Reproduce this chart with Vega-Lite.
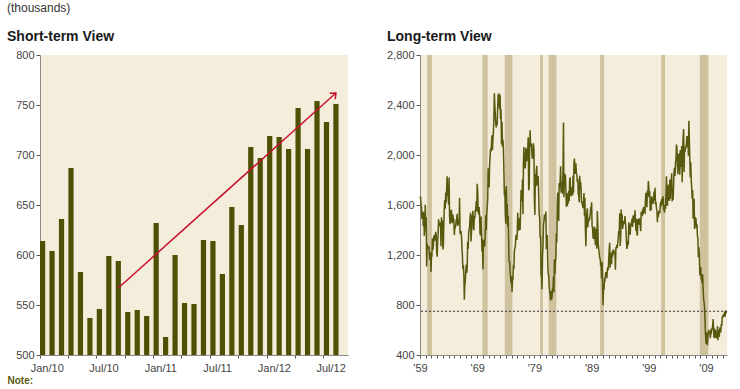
{
  "$schema": "https://vega.github.io/schema/vega-lite/v6.json",
  "background": "white",
  "padding": {"left": 0, "top": 2, "right": 5, "bottom": 0},
  "title": {"text": "(thousands)", "anchor": "start", "frame": "bounds", "dx": 7, "fontSize": 12, "fontWeight": "normal", "font": "Liberation Sans", "color": "#333333", "offset": 15},
  "config": {
    "view": {"stroke": null, "fill": "#F4EDDB"},
    "axis": {"grid": false, "labelOverlap": false, "labelFont": "Liberation Sans", "labelFontSize": 11, "labelColor": "#444444", "domainColor": "#8a8a8a", "tickColor": "#555555", "tickSize": 4, "titleFont": "Liberation Sans"},
    "axisTemporal": {"labelOverlap": false},
    "title": {"font": "Liberation Sans", "fontSize": 14, "fontWeight": "bold", "color": "#1a1a1a", "anchor": "start", "frame": "bounds", "dx": 7, "offset": 5}
  },
  "datasets": {
    "short": [
      {"month":"Jan/10","v":614},{"month":"Feb/10","v":604},{"month":"Mar/10","v":636},{"month":"Apr/10","v":687},{"month":"May/10","v":583},{"month":"Jun/10","v":537},{"month":"Jul/10","v":546},{"month":"Aug/10","v":599},{"month":"Sep/10","v":594},{"month":"Oct/10","v":543},{"month":"Nov/10","v":545},{"month":"Dec/10","v":539},
      {"month":"Jan/11","v":632},{"month":"Feb/11","v":518},{"month":"Mar/11","v":600},{"month":"Apr/11","v":552},{"month":"May/11","v":551},{"month":"Jun/11","v":615},{"month":"Jul/11","v":614},{"month":"Aug/11","v":581},{"month":"Sep/11","v":648},{"month":"Oct/11","v":630},{"month":"Nov/11","v":708},{"month":"Dec/11","v":697},
      {"month":"Jan/12","v":719},{"month":"Feb/12","v":718},{"month":"Mar/12","v":706},{"month":"Apr/12","v":747},{"month":"May/12","v":706},{"month":"Jun/12","v":754},{"month":"Jul/12","v":733},{"month":"Aug/12","v":751}
    ],
    "arrow": [{"from":"Sep/10","to":"Aug/12","v0":567,"v1":762}],
    "ref": [{"v": 750}],
    "rec": [
      {"s":"1960-04","e":"1961-02"},{"s":"1969-12","e":"1970-11"},{"s":"1973-11","e":"1975-03"},{"s":"1980-01","e":"1980-07"},
      {"s":"1981-07","e":"1982-11"},{"s":"1990-07","e":"1991-03"},{"s":"2001-03","e":"2001-11"},{"s":"2007-12","e":"2009-06"}
    ],
    "long": [
{"d":"1959-01","v":1657},{"d":"1959-02","v":1667},{"d":"1959-03","v":1620},{"d":"1959-04","v":1590},{"d":"1959-05","v":1498},{"d":"1959-06","v":1503},{"d":"1959-07","v":1547},{"d":"1959-08","v":1430},{"d":"1959-09","v":1540},{"d":"1959-10","v":1355},{"d":"1959-11","v":1416},{"d":"1959-12","v":1601},
{"d":"1960-01","v":1460},{"d":"1960-02","v":1503},{"d":"1960-03","v":1109},{"d":"1960-04","v":1289},{"d":"1960-05","v":1266},{"d":"1960-06","v":1260},{"d":"1960-07","v":1255},{"d":"1960-08","v":1268},{"d":"1960-09","v":1162},{"d":"1960-10","v":1187},{"d":"1960-11","v":1221},{"d":"1960-12","v":1065},
{"d":"1961-01","v":1185},{"d":"1961-02","v":1192},{"d":"1961-03","v":1334},{"d":"1961-04","v":1240},{"d":"1961-05","v":1279},{"d":"1961-06","v":1348},{"d":"1961-07","v":1353},{"d":"1961-08","v":1322},{"d":"1961-09","v":1327},{"d":"1961-10","v":1385},{"d":"1961-11","v":1357},{"d":"1961-12","v":1224},
{"d":"1962-01","v":1187},{"d":"1962-02","v":1304},{"d":"1962-03","v":1363},{"d":"1962-04","v":1485},{"d":"1962-05","v":1451},{"d":"1962-06","v":1430},{"d":"1962-07","v":1451},{"d":"1962-08","v":1460},{"d":"1962-09","v":1271},{"d":"1962-10","v":1501},{"d":"1962-11","v":1404},{"d":"1962-12","v":1477},
{"d":"1963-01","v":1244},{"d":"1963-02","v":1270},{"d":"1963-03","v":1445},{"d":"1963-04","v":1580},{"d":"1963-05","v":1640},{"d":"1963-06","v":1570},{"d":"1963-07","v":1700},{"d":"1963-08","v":1620},{"d":"1963-09","v":1740},{"d":"1963-10","v":1830},{"d":"1963-11","v":1680},{"d":"1963-12","v":1690},
{"d":"1964-01","v":1603},{"d":"1964-02","v":1820},{"d":"1964-03","v":1517},{"d":"1964-04","v":1448},{"d":"1964-05","v":1467},{"d":"1964-06","v":1550},{"d":"1964-07","v":1562},{"d":"1964-08","v":1469},{"d":"1964-09","v":1455},{"d":"1964-10","v":1524},{"d":"1964-11","v":1486},{"d":"1964-12","v":1484},
{"d":"1965-01","v":1361},{"d":"1965-02","v":1433},{"d":"1965-03","v":1423},{"d":"1965-04","v":1438},{"d":"1965-05","v":1478},{"d":"1965-06","v":1488},{"d":"1965-07","v":1529},{"d":"1965-08","v":1432},{"d":"1965-09","v":1482},{"d":"1965-10","v":1452},{"d":"1965-11","v":1460},{"d":"1965-12","v":1656},
{"d":"1966-01","v":1370},{"d":"1966-02","v":1378},{"d":"1966-03","v":1394},{"d":"1966-04","v":1352},{"d":"1966-05","v":1265},{"d":"1966-06","v":1194},{"d":"1966-07","v":1086},{"d":"1966-08","v":1119},{"d":"1966-09","v":1046},{"d":"1966-10","v":843},{"d":"1966-11","v":961},{"d":"1966-12","v":990},
{"d":"1967-01","v":1067},{"d":"1967-02","v":1123},{"d":"1967-03","v":1056},{"d":"1967-04","v":1091},{"d":"1967-05","v":1304},{"d":"1967-06","v":1248},{"d":"1967-07","v":1364},{"d":"1967-08","v":1407},{"d":"1967-09","v":1421},{"d":"1967-10","v":1491},{"d":"1967-11","v":1538},{"d":"1967-12","v":1308},
{"d":"1968-01","v":1380},{"d":"1968-02","v":1520},{"d":"1968-03","v":1466},{"d":"1968-04","v":1554},{"d":"1968-05","v":1408},{"d":"1968-06","v":1405},{"d":"1968-07","v":1512},{"d":"1968-08","v":1495},{"d":"1968-09","v":1556},{"d":"1968-10","v":1569},{"d":"1968-11","v":1630},{"d":"1968-12","v":1548},
{"d":"1969-01","v":1769},{"d":"1969-02","v":1705},{"d":"1969-03","v":1561},{"d":"1969-04","v":1524},{"d":"1969-05","v":1583},{"d":"1969-06","v":1528},{"d":"1969-07","v":1368},{"d":"1969-08","v":1358},{"d":"1969-09","v":1507},{"d":"1969-10","v":1381},{"d":"1969-11","v":1229},{"d":"1969-12","v":1327},
{"d":"1970-01","v":1085},{"d":"1970-02","v":1305},{"d":"1970-03","v":1319},{"d":"1970-04","v":1264},{"d":"1970-05","v":1290},{"d":"1970-06","v":1385},{"d":"1970-07","v":1517},{"d":"1970-08","v":1399},{"d":"1970-09","v":1534},{"d":"1970-10","v":1580},{"d":"1970-11","v":1647},{"d":"1970-12","v":1893},
{"d":"1971-01","v":1828},{"d":"1971-02","v":1741},{"d":"1971-03","v":1910},{"d":"1971-04","v":1986},{"d":"1971-05","v":2049},{"d":"1971-06","v":2026},{"d":"1971-07","v":2083},{"d":"1971-08","v":2158},{"d":"1971-09","v":2041},{"d":"1971-10","v":2128},{"d":"1971-11","v":2182},{"d":"1971-12","v":2295},
{"d":"1972-01","v":2494},{"d":"1972-02","v":2390},{"d":"1972-03","v":2334},{"d":"1972-04","v":2249},{"d":"1972-05","v":2221},{"d":"1972-06","v":2254},{"d":"1972-07","v":2252},{"d":"1972-08","v":2382},{"d":"1972-09","v":2481},{"d":"1972-10","v":2485},{"d":"1972-11","v":2421},{"d":"1972-12","v":2366},
{"d":"1973-01","v":2481},{"d":"1973-02","v":2289},{"d":"1973-03","v":2365},{"d":"1973-04","v":2084},{"d":"1973-05","v":2266},{"d":"1973-06","v":2067},{"d":"1973-07","v":2123},{"d":"1973-08","v":2051},{"d":"1973-09","v":1874},{"d":"1973-10","v":1677},{"d":"1973-11","v":1724},{"d":"1973-12","v":1526},
{"d":"1974-01","v":1451},{"d":"1974-02","v":1752},{"d":"1974-03","v":1555},{"d":"1974-04","v":1607},{"d":"1974-05","v":1426},{"d":"1974-06","v":1513},{"d":"1974-07","v":1316},{"d":"1974-08","v":1142},{"d":"1974-09","v":1150},{"d":"1974-10","v":1070},{"d":"1974-11","v":1026},{"d":"1974-12","v":975},
{"d":"1975-01","v":1032},{"d":"1975-02","v":904},{"d":"1975-03","v":993},{"d":"1975-04","v":1005},{"d":"1975-05","v":1121},{"d":"1975-06","v":1087},{"d":"1975-07","v":1226},{"d":"1975-08","v":1260},{"d":"1975-09","v":1264},{"d":"1975-10","v":1344},{"d":"1975-11","v":1360},{"d":"1975-12","v":1321},
{"d":"1976-01","v":1367},{"d":"1976-02","v":1538},{"d":"1976-03","v":1421},{"d":"1976-04","v":1395},{"d":"1976-05","v":1459},{"d":"1976-06","v":1495},{"d":"1976-07","v":1401},{"d":"1976-08","v":1550},{"d":"1976-09","v":1720},{"d":"1976-10","v":1629},{"d":"1976-11","v":1641},{"d":"1976-12","v":1804},
{"d":"1977-01","v":1527},{"d":"1977-02","v":1943},{"d":"1977-03","v":2063},{"d":"1977-04","v":1892},{"d":"1977-05","v":1971},{"d":"1977-06","v":1893},{"d":"1977-07","v":2058},{"d":"1977-08","v":2020},{"d":"1977-09","v":1949},{"d":"1977-10","v":2042},{"d":"1977-11","v":2042},{"d":"1977-12","v":2142},
{"d":"1978-01","v":1718},{"d":"1978-02","v":1738},{"d":"1978-03","v":2032},{"d":"1978-04","v":2197},{"d":"1978-05","v":2075},{"d":"1978-06","v":2070},{"d":"1978-07","v":2092},{"d":"1978-08","v":1996},{"d":"1978-09","v":1970},{"d":"1978-10","v":1981},{"d":"1978-11","v":2094},{"d":"1978-12","v":2044},
{"d":"1979-01","v":1630},{"d":"1979-02","v":1520},{"d":"1979-03","v":1847},{"d":"1979-04","v":1748},{"d":"1979-05","v":1876},{"d":"1979-06","v":1913},{"d":"1979-07","v":1760},{"d":"1979-08","v":1778},{"d":"1979-09","v":1832},{"d":"1979-10","v":1681},{"d":"1979-11","v":1524},{"d":"1979-12","v":1498},
{"d":"1980-01","v":1341},{"d":"1980-02","v":1350},{"d":"1980-03","v":1047},{"d":"1980-04","v":1051},{"d":"1980-05","v":927},{"d":"1980-06","v":1196},{"d":"1980-07","v":1269},{"d":"1980-08","v":1436},{"d":"1980-09","v":1471},{"d":"1980-10","v":1523},{"d":"1980-11","v":1510},{"d":"1980-12","v":1482},
{"d":"1981-01","v":1547},{"d":"1981-02","v":1246},{"d":"1981-03","v":1306},{"d":"1981-04","v":1360},{"d":"1981-05","v":1140},{"d":"1981-06","v":1045},{"d":"1981-07","v":1041},{"d":"1981-08","v":940},{"d":"1981-09","v":911},{"d":"1981-10","v":873},{"d":"1981-11","v":837},{"d":"1981-12","v":910},
{"d":"1982-01","v":843},{"d":"1982-02","v":866},{"d":"1982-03","v":931},{"d":"1982-04","v":917},{"d":"1982-05","v":1025},{"d":"1982-06","v":902},{"d":"1982-07","v":1166},{"d":"1982-08","v":1046},{"d":"1982-09","v":1144},{"d":"1982-10","v":1173},{"d":"1982-11","v":1372},{"d":"1982-12","v":1303},
{"d":"1983-01","v":1586},{"d":"1983-02","v":1699},{"d":"1983-03","v":1606},{"d":"1983-04","v":1472},{"d":"1983-05","v":1776},{"d":"1983-06","v":1733},{"d":"1983-07","v":1785},{"d":"1983-08","v":1910},{"d":"1983-09","v":1710},{"d":"1983-10","v":1715},{"d":"1983-11","v":1785},{"d":"1983-12","v":1688},
{"d":"1984-01","v":1897},{"d":"1984-02","v":2260},{"d":"1984-03","v":1663},{"d":"1984-04","v":1851},{"d":"1984-05","v":1774},{"d":"1984-06","v":1843},{"d":"1984-07","v":1732},{"d":"1984-08","v":1586},{"d":"1984-09","v":1698},{"d":"1984-10","v":1590},{"d":"1984-11","v":1689},{"d":"1984-12","v":1612},
{"d":"1985-01","v":1711},{"d":"1985-02","v":1632},{"d":"1985-03","v":1800},{"d":"1985-04","v":1821},{"d":"1985-05","v":1680},{"d":"1985-06","v":1676},{"d":"1985-07","v":1684},{"d":"1985-08","v":1743},{"d":"1985-09","v":1676},{"d":"1985-10","v":1834},{"d":"1985-11","v":1698},{"d":"1985-12","v":1942},
{"d":"1986-01","v":1972},{"d":"1986-02","v":1848},{"d":"1986-03","v":1876},{"d":"1986-04","v":1933},{"d":"1986-05","v":1854},{"d":"1986-06","v":1847},{"d":"1986-07","v":1782},{"d":"1986-08","v":1807},{"d":"1986-09","v":1687},{"d":"1986-10","v":1681},{"d":"1986-11","v":1623},{"d":"1986-12","v":1833},
{"d":"1987-01","v":1774},{"d":"1987-02","v":1784},{"d":"1987-03","v":1726},{"d":"1987-04","v":1614},{"d":"1987-05","v":1628},{"d":"1987-06","v":1594},{"d":"1987-07","v":1575},{"d":"1987-08","v":1605},{"d":"1987-09","v":1695},{"d":"1987-10","v":1515},{"d":"1987-11","v":1656},{"d":"1987-12","v":1400},
{"d":"1988-01","v":1271},{"d":"1988-02","v":1473},{"d":"1988-03","v":1532},{"d":"1988-04","v":1573},{"d":"1988-05","v":1421},{"d":"1988-06","v":1478},{"d":"1988-07","v":1467},{"d":"1988-08","v":1493},{"d":"1988-09","v":1492},{"d":"1988-10","v":1522},{"d":"1988-11","v":1569},{"d":"1988-12","v":1563},
{"d":"1989-01","v":1621},{"d":"1989-02","v":1425},{"d":"1989-03","v":1422},{"d":"1989-04","v":1339},{"d":"1989-05","v":1331},{"d":"1989-06","v":1397},{"d":"1989-07","v":1427},{"d":"1989-08","v":1332},{"d":"1989-09","v":1279},{"d":"1989-10","v":1410},{"d":"1989-11","v":1351},{"d":"1989-12","v":1251},
{"d":"1990-01","v":1551},{"d":"1990-02","v":1437},{"d":"1990-03","v":1289},{"d":"1990-04","v":1248},{"d":"1990-05","v":1212},{"d":"1990-06","v":1177},{"d":"1990-07","v":1171},{"d":"1990-08","v":1115},{"d":"1990-09","v":1110},{"d":"1990-10","v":1014},{"d":"1990-11","v":1145},{"d":"1990-12","v":969},
{"d":"1991-01","v":798},{"d":"1991-02","v":965},{"d":"1991-03","v":921},{"d":"1991-04","v":1001},{"d":"1991-05","v":996},{"d":"1991-06","v":1036},{"d":"1991-07","v":1063},{"d":"1991-08","v":1049},{"d":"1991-09","v":1015},{"d":"1991-10","v":1079},{"d":"1991-11","v":1103},{"d":"1991-12","v":1079},
{"d":"1992-01","v":1176},{"d":"1992-02","v":1250},{"d":"1992-03","v":1297},{"d":"1992-04","v":1099},{"d":"1992-05","v":1214},{"d":"1992-06","v":1145},{"d":"1992-07","v":1139},{"d":"1992-08","v":1226},{"d":"1992-09","v":1186},{"d":"1992-10","v":1244},{"d":"1992-11","v":1214},{"d":"1992-12","v":1227},
{"d":"1993-01","v":1210},{"d":"1993-02","v":1210},{"d":"1993-03","v":1083},{"d":"1993-04","v":1258},{"d":"1993-05","v":1260},{"d":"1993-06","v":1280},{"d":"1993-07","v":1254},{"d":"1993-08","v":1300},{"d":"1993-09","v":1343},{"d":"1993-10","v":1392},{"d":"1993-11","v":1376},{"d":"1993-12","v":1533},
{"d":"1994-01","v":1272},{"d":"1994-02","v":1337},{"d":"1994-03","v":1564},{"d":"1994-04","v":1465},{"d":"1994-05","v":1526},{"d":"1994-06","v":1409},{"d":"1994-07","v":1439},{"d":"1994-08","v":1450},{"d":"1994-09","v":1474},{"d":"1994-10","v":1450},{"d":"1994-11","v":1511},{"d":"1994-12","v":1455},
{"d":"1995-01","v":1407},{"d":"1995-02","v":1316},{"d":"1995-03","v":1249},{"d":"1995-04","v":1267},{"d":"1995-05","v":1314},{"d":"1995-06","v":1281},{"d":"1995-07","v":1461},{"d":"1995-08","v":1416},{"d":"1995-09","v":1369},{"d":"1995-10","v":1369},{"d":"1995-11","v":1452},{"d":"1995-12","v":1431},
{"d":"1996-01","v":1467},{"d":"1996-02","v":1491},{"d":"1996-03","v":1424},{"d":"1996-04","v":1516},{"d":"1996-05","v":1504},{"d":"1996-06","v":1467},{"d":"1996-07","v":1472},{"d":"1996-08","v":1557},{"d":"1996-09","v":1475},{"d":"1996-10","v":1392},{"d":"1996-11","v":1489},{"d":"1996-12","v":1370},
{"d":"1997-01","v":1355},{"d":"1997-02","v":1486},{"d":"1997-03","v":1457},{"d":"1997-04","v":1492},{"d":"1997-05","v":1442},{"d":"1997-06","v":1494},{"d":"1997-07","v":1437},{"d":"1997-08","v":1390},{"d":"1997-09","v":1546},{"d":"1997-10","v":1520},{"d":"1997-11","v":1510},{"d":"1997-12","v":1566},
{"d":"1998-01","v":1525},{"d":"1998-02","v":1584},{"d":"1998-03","v":1567},{"d":"1998-04","v":1540},{"d":"1998-05","v":1536},{"d":"1998-06","v":1641},{"d":"1998-07","v":1698},{"d":"1998-08","v":1614},{"d":"1998-09","v":1582},{"d":"1998-10","v":1715},{"d":"1998-11","v":1660},{"d":"1998-12","v":1792},
{"d":"1999-01","v":1748},{"d":"1999-02","v":1670},{"d":"1999-03","v":1710},{"d":"1999-04","v":1553},{"d":"1999-05","v":1611},{"d":"1999-06","v":1559},{"d":"1999-07","v":1669},{"d":"1999-08","v":1648},{"d":"1999-09","v":1635},{"d":"1999-10","v":1608},{"d":"1999-11","v":1648},{"d":"1999-12","v":1708},
{"d":"2000-01","v":1636},{"d":"2000-02","v":1737},{"d":"2000-03","v":1604},{"d":"2000-04","v":1626},{"d":"2000-05","v":1575},{"d":"2000-06","v":1559},{"d":"2000-07","v":1463},{"d":"2000-08","v":1541},{"d":"2000-09","v":1507},{"d":"2000-10","v":1549},{"d":"2000-11","v":1551},{"d":"2000-12","v":1532},
{"d":"2001-01","v":1600},{"d":"2001-02","v":1625},{"d":"2001-03","v":1590},{"d":"2001-04","v":1649},{"d":"2001-05","v":1605},{"d":"2001-06","v":1636},{"d":"2001-07","v":1670},{"d":"2001-08","v":1567},{"d":"2001-09","v":1562},{"d":"2001-10","v":1540},{"d":"2001-11","v":1602},{"d":"2001-12","v":1568},
{"d":"2002-01","v":1698},{"d":"2002-02","v":1829},{"d":"2002-03","v":1642},{"d":"2002-04","v":1592},{"d":"2002-05","v":1764},{"d":"2002-06","v":1717},{"d":"2002-07","v":1655},{"d":"2002-08","v":1633},{"d":"2002-09","v":1804},{"d":"2002-10","v":1648},{"d":"2002-11","v":1753},{"d":"2002-12","v":1788},
{"d":"2003-01","v":1853},{"d":"2003-02","v":1629},{"d":"2003-03","v":1726},{"d":"2003-04","v":1643},{"d":"2003-05","v":1751},{"d":"2003-06","v":1867},{"d":"2003-07","v":1897},{"d":"2003-08","v":1833},{"d":"2003-09","v":1939},{"d":"2003-10","v":1967},{"d":"2003-11","v":2083},{"d":"2003-12","v":2057},
{"d":"2004-01","v":1911},{"d":"2004-02","v":1846},{"d":"2004-03","v":1998},{"d":"2004-04","v":2003},{"d":"2004-05","v":1981},{"d":"2004-06","v":1842},{"d":"2004-07","v":2039},{"d":"2004-08","v":1998},{"d":"2004-09","v":1905},{"d":"2004-10","v":2072},{"d":"2004-11","v":1782},{"d":"2004-12","v":2042},
{"d":"2005-01","v":2144},{"d":"2005-02","v":2207},{"d":"2005-03","v":1864},{"d":"2005-04","v":2061},{"d":"2005-05","v":2025},{"d":"2005-06","v":2068},{"d":"2005-07","v":2054},{"d":"2005-08","v":2095},{"d":"2005-09","v":2151},{"d":"2005-10","v":2065},{"d":"2005-11","v":2147},{"d":"2005-12","v":1994},
{"d":"2006-01","v":2273},{"d":"2006-02","v":2119},{"d":"2006-03","v":1969},{"d":"2006-04","v":1821},{"d":"2006-05","v":1942},{"d":"2006-06","v":1802},{"d":"2006-07","v":1737},{"d":"2006-08","v":1650},{"d":"2006-09","v":1720},{"d":"2006-10","v":1491},{"d":"2006-11","v":1570},{"d":"2006-12","v":1649},
{"d":"2007-01","v":1409},{"d":"2007-02","v":1480},{"d":"2007-03","v":1495},{"d":"2007-04","v":1490},{"d":"2007-05","v":1415},{"d":"2007-06","v":1448},{"d":"2007-07","v":1354},{"d":"2007-08","v":1330},{"d":"2007-09","v":1183},{"d":"2007-10","v":1264},{"d":"2007-11","v":1197},{"d":"2007-12","v":1037},
{"d":"2008-01","v":1084},{"d":"2008-02","v":1103},{"d":"2008-03","v":1005},{"d":"2008-04","v":1013},{"d":"2008-05","v":973},{"d":"2008-06","v":1046},{"d":"2008-07","v":923},{"d":"2008-08","v":844},{"d":"2008-09","v":820},{"d":"2008-10","v":777},{"d":"2008-11","v":652},{"d":"2008-12","v":560},
{"d":"2009-01","v":490},{"d":"2009-02","v":582},{"d":"2009-03","v":505},{"d":"2009-04","v":478},{"d":"2009-05","v":540},{"d":"2009-06","v":585},{"d":"2009-07","v":594},{"d":"2009-08","v":586},{"d":"2009-09","v":585},{"d":"2009-10","v":534},{"d":"2009-11","v":588},{"d":"2009-12","v":581},
{"d":"2010-01","v":614},{"d":"2010-02","v":604},{"d":"2010-03","v":636},{"d":"2010-04","v":687},{"d":"2010-05","v":583},{"d":"2010-06","v":537},{"d":"2010-07","v":546},{"d":"2010-08","v":599},{"d":"2010-09","v":594},{"d":"2010-10","v":543},{"d":"2010-11","v":545},{"d":"2010-12","v":539},
{"d":"2011-01","v":632},{"d":"2011-02","v":518},{"d":"2011-03","v":600},{"d":"2011-04","v":552},{"d":"2011-05","v":551},{"d":"2011-06","v":615},{"d":"2011-07","v":614},{"d":"2011-08","v":581},{"d":"2011-09","v":648},{"d":"2011-10","v":630},{"d":"2011-11","v":708},{"d":"2011-12","v":697},
{"d":"2012-01","v":719},{"d":"2012-02","v":718},{"d":"2012-03","v":706},{"d":"2012-04","v":747},{"d":"2012-05","v":706},{"d":"2012-06","v":754},{"d":"2012-07","v":733},{"d":"2012-08","v":751}
    ]
  },
  "hconcat": [
    {
      "width": 308, "height": 300,
      "title": {"text": "Short-term View"},
      "layer": [
        {
          "data": {"name": "short"},
          "mark": {"type": "bar", "color": "#4F4F06"},
          "encoding": {
            "x": {"field": "month", "type": "ordinal", "sort": null,
              "scale": {"domain": ["Jan/10","Feb/10","Mar/10","Apr/10","May/10","Jun/10","Jul/10","Aug/10","Sep/10","Oct/10","Nov/10","Dec/10","Jan/11","Feb/11","Mar/11","Apr/11","May/11","Jun/11","Jul/11","Aug/11","Sep/11","Oct/11","Nov/11","Dec/11","Jan/12","Feb/12","Mar/12","Apr/12","May/12","Jun/12","Jul/12","Aug/12","Sep/12"], "paddingInner": 0.45, "paddingOuter": 0},
              "axis": {"title": "Note:", "titleX": -33, "titleY": 25, "titleAlign": "left", "titleBaseline": "middle", "titleAnchor": null, "titleFontSize": 10, "titleFontWeight": "bold", "titleColor": "#5A5A10",
                "values": ["Jan/10","Apr/10","Jul/10","Oct/10","Jan/11","Apr/11","Jul/11","Oct/11","Jan/12","Apr/12","Jul/12"],
                "bandPosition": 0, "labelOffset": 4.67, "labelAngle": 0, "tickSize": 3, "labelPadding": 4, "labelOverlap": false,
                "labelExpr": "indexof(datum.value,'Jan')==0 || indexof(datum.value,'Jul')==0 ? datum.value : ''"}},
            "y": {"field": "v", "type": "quantitative", "scale": {"domain": [500, 800], "zero": false, "nice": false},
              "axis": {"title": null, "values": [500,550,600,650,700,750,800], "minExtent": 40, "maxExtent": 40}},
            "y2": {"datum": 500}
          }
        },
        {
          "data": {"name": "arrow"},
          "mark": {"type": "rule", "color": "#C8102E", "strokeWidth": 1.5},
          "encoding": {
            "x": {"field": "from", "type": "ordinal"},
            "x2": {"field": "to"},
            "y": {"field": "v0", "type": "quantitative"},
            "y2": {"field": "v1"}
          }
        },
        {
          "data": {"name": "arrow"},
          "mark": {"type": "point", "shape": "M-0.65,0.75L0,0L0.65,0.75", "filled": false, "color": "#C8102E", "strokeWidth": 1.5, "size": 160, "angle": 47, "opacity": 1},
          "encoding": {
            "x": {"field": "to", "type": "ordinal"},
            "y": {"field": "v1", "type": "quantitative"}
          }
        }
      ]
    },
    {
      "width": 307, "height": 300,
      "title": {"text": "Long-term View"},
      "encoding": {
        "y": {"field": "v", "type": "quantitative", "scale": {"domain": [400, 2800], "nice": false, "zero": false},
          "axis": {"title": null, "values": [400,800,1200,1600,2000,2400,2800], "minExtent": 40, "maxExtent": 40,
            "labelExpr": "datum.value >= 1000 ? floor(datum.value/1000) + ',' + (datum.value % 1000 == 0 ? '000' : toString(datum.value % 1000)) : toString(datum.value)"}}
      },
      "layer": [
        {
          "data": {"name": "rec"},
          "mark": {"type": "rect", "color": "#CEC29F"},
          "encoding": {
            "x": {"field": "s", "type": "temporal",
              "scale": {"domain": ["1959-01-01", "2012-09-01"]},
              "axis": {"title": null, "tickSize": 3, "labelPadding": 4, "labelOverlap": false, "labelBound": false, "labelFlush": false,
                "values": [{"year":1959},{"year":1960},{"year":1961},{"year":1962},{"year":1963},{"year":1964},{"year":1965},{"year":1966},{"year":1967},{"year":1968},{"year":1969},{"year":1970},{"year":1971},{"year":1972},{"year":1973},{"year":1974},{"year":1975},{"year":1976},{"year":1977},{"year":1978},{"year":1979},{"year":1980},{"year":1981},{"year":1982},{"year":1983},{"year":1984},{"year":1985},{"year":1986},{"year":1987},{"year":1988},{"year":1989},{"year":1990},{"year":1991},{"year":1992},{"year":1993},{"year":1994},{"year":1995},{"year":1996},{"year":1997},{"year":1998},{"year":1999},{"year":2000},{"year":2001},{"year":2002},{"year":2003},{"year":2004},{"year":2005},{"year":2006},{"year":2007},{"year":2008},{"year":2009},{"year":2010},{"year":2011},{"year":2012}],
                "labelExpr": "year(datum.value) % 10 == 9 ? \"'\" + timeFormat(datum.value, '%y') : ''"}},
            "x2": {"field": "e"},
            "y": {"value": 0},
            "y2": {"value": 300}
          }
        },
        {
          "data": {"name": "long"},
          "mark": {"type": "line", "color": "#58580E", "strokeWidth": 1.5},
          "encoding": {
            "x": {"field": "d", "type": "temporal",
              "axis": {"title": null, "tickSize": 3, "labelPadding": 4, "labelOverlap": false, "labelBound": false, "labelFlush": false,
                "values": [{"year":1959},{"year":1960},{"year":1961},{"year":1962},{"year":1963},{"year":1964},{"year":1965},{"year":1966},{"year":1967},{"year":1968},{"year":1969},{"year":1970},{"year":1971},{"year":1972},{"year":1973},{"year":1974},{"year":1975},{"year":1976},{"year":1977},{"year":1978},{"year":1979},{"year":1980},{"year":1981},{"year":1982},{"year":1983},{"year":1984},{"year":1985},{"year":1986},{"year":1987},{"year":1988},{"year":1989},{"year":1990},{"year":1991},{"year":1992},{"year":1993},{"year":1994},{"year":1995},{"year":1996},{"year":1997},{"year":1998},{"year":1999},{"year":2000},{"year":2001},{"year":2002},{"year":2003},{"year":2004},{"year":2005},{"year":2006},{"year":2007},{"year":2008},{"year":2009},{"year":2010},{"year":2011},{"year":2012}],
                "labelExpr": "year(datum.value) % 10 == 9 ? \"'\" + timeFormat(datum.value, '%y') : ''"}}
          }
        },
        {
          "data": {"name": "ref"},
          "mark": {"type": "rule", "color": "#333333", "strokeDash": [2, 2], "strokeWidth": 1}
        }
      ]
    }
  ],
  "spacing": 32
}
